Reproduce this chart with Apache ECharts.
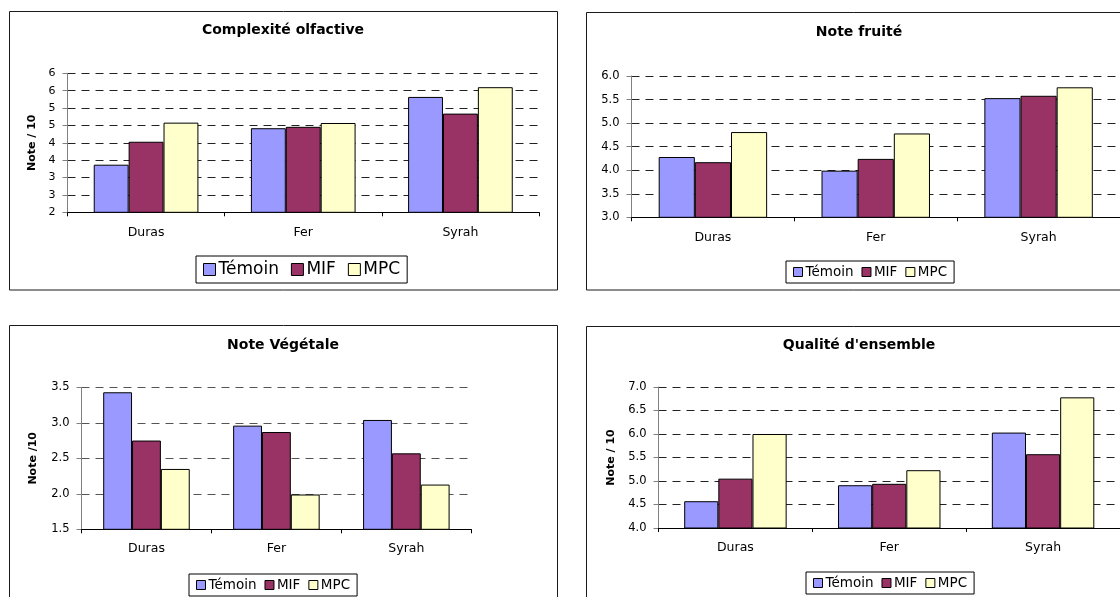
<!DOCTYPE html>
<html>
<head>
<meta charset="utf-8">
<script src="https://cdn.jsdelivr.net/npm/echarts@6/dist/echarts.min.js"></script>
<style>
  html, body { margin: 0; padding: 0; background: #ffffff; }
  #chart { width: 1120px; height: 597px; }
</style>
</head>
<body>
<div id="chart"></div>
<script>
// Sensory scores (note / 10) for three grape varieties and three treatments
const categories = ['Duras', 'Fer', 'Syrah'];
const treatments = ['Témoin', 'MIF', 'MPC'];

const complexiteTemoin = [3.37, 4.42, 5.32];
const complexiteMIF    = [4.03, 4.46, 4.84];
const complexiteMPC    = [4.58, 4.57, 5.60];

const fruiteTemoin = [4.28, 3.99, 5.53];
const fruiteMIF    = [4.17, 4.24, 5.58];
const fruiteMPC    = [4.81, 4.78, 5.76];

const vegetaleTemoin = [3.43, 2.96, 3.04];
const vegetaleMIF    = [2.75, 2.87, 2.57];
const vegetaleMPC    = [2.35, 1.99, 2.13];

const qualiteTemoin = [4.57, 4.91, 6.03];
const qualiteMIF    = [5.05, 4.94, 5.57];
const qualiteMPC    = [6.00, 5.23, 6.78];

// Value-axis tick labels (the first chart shows rounded whole numbers)
const complexiteTicks = ['2', '3', '3', '4', '4', '5', '5', '6', '6'];
const fruiteTicks     = ['3.0', '3.5', '4.0', '4.5', '5.0', '5.5', '6.0'];
const vegetaleTicks   = ['1.5', '2.0', '2.5', '3.0', '3.5'];
const qualiteTicks    = ['4.0', '4.5', '5.0', '5.5', '6.0', '6.5', '7.0'];

const colors = ['#9999FF', '#993366', '#FFFFCC'];
const FONT = 'DejaVu Sans';

const panels = [
  {
    title: 'Complexité olfactive', titleX: 283, titleY: 23,
    grid: { left: 67.5, top: 73.3, width: 471.5, height: 139 },
    min: 2, max: 6, ticks: complexiteTicks, tickSize: 11,
    axisName: 'Note / 10', nameGap: 30,
    values: [complexiteTemoin, complexiteMIF, complexiteMPC],
    legend: { left: 196, top: 256, fontSize: 17, icon: 12, gap: 12, pad: [5, 7, 5, 7] },
    frame: { x: 9.5, y: 11.5, w: 548, h: 278.5 },
    gridColor: '#222', labelMargin: 14
  },
  {
    title: 'Note fruité', titleX: 859, titleY: 25,
    grid: { left: 631.5, top: 76, width: 492.6, height: 141.3 },
    min: 3, max: 6, ticks: fruiteTicks, tickSize: 11.5,
    axisName: '', nameGap: 30,
    values: [fruiteTemoin, fruiteMIF, fruiteMPC],
    legend: { left: 786, top: 261, fontSize: 13.5, icon: 9, gap: 8, pad: [4, 7, 4, 7] },
    frame: { x: 586.5, y: 12.5, w: 620, h: 277.5 },
    gridColor: '#222', labelMargin: 14
  },
  {
    title: 'Note Végétale', titleX: 283, titleY: 338,
    grid: { left: 81.5, top: 387.3, width: 389.8, height: 142 },
    min: 1.5, max: 3.5, ticks: vegetaleTicks, tickSize: 11.5,
    axisName: 'Note /10', nameGap: 43,
    values: [vegetaleTemoin, vegetaleMIF, vegetaleMPC],
    legend: { left: 189, top: 574, fontSize: 13.5, icon: 9, gap: 8, pad: [4, 7, 4, 7] },
    frame: { x: 9.5, y: 325.5, w: 548, h: 300 },
    gridColor: '#555', labelMargin: 13
  },
  {
    title: "Qualité d'ensemble", titleX: 859, titleY: 338,
    grid: { left: 658.5, top: 387, width: 464, height: 141 },
    min: 4, max: 7, ticks: qualiteTicks, tickSize: 11.5,
    axisName: 'Note / 10', nameGap: 42,
    values: [qualiteTemoin, qualiteMIF, qualiteMPC],
    legend: { left: 806, top: 572, fontSize: 13.5, icon: 9, gap: 8, pad: [4, 7, 4, 7] },
    frame: { x: 586.5, y: 326.5, w: 620, h: 300 },
    gridColor: '#222', labelMargin: 13
  }
];

const option = {
  backgroundColor: '#ffffff',
  animation: false,
  textStyle: { fontFamily: FONT, color: '#000' },
  title: [],
  legend: [],
  grid: [],
  xAxis: [],
  yAxis: [],
  series: [],
  graphic: []
};

panels.forEach((p, i) => {
  option.title.push({
    text: p.title,
    left: p.titleX,
    top: p.titleY,
    textAlign: 'center',
    padding: 0,
    textStyle: { fontFamily: FONT, fontSize: 14, fontWeight: 'bold', color: '#000' }
  });

  option.grid.push(Object.assign({ containLabel: false }, p.grid));

  option.xAxis.push({
    type: 'category',
    gridIndex: i,
    data: categories,
    boundaryGap: true,
    axisLine: { lineStyle: { color: '#000', width: 1 } },
    axisTick: { show: true, alignWithLabel: false, length: 4, lineStyle: { color: '#000' } },
    axisLabel: { fontFamily: FONT, fontSize: 12.5, color: '#000', margin: p.labelMargin },
    splitLine: { show: false }
  });

  option.yAxis.push({
    type: 'value',
    gridIndex: i,
    min: p.min,
    max: p.max,
    interval: 0.5,
    name: p.axisName,
    nameLocation: 'middle',
    nameRotate: 90,
    nameGap: p.nameGap,
    nameTextStyle: { fontFamily: FONT, fontSize: 11, fontWeight: 'bold', color: '#000' },
    axisLine: { show: true, lineStyle: { color: '#808080', width: 1 } },
    axisTick: { show: true, length: 5, lineStyle: { color: '#808080' } },
    axisLabel: {
      fontFamily: FONT, fontSize: p.tickSize, color: '#000', margin: 12,
      formatter: (v, idx) => p.ticks[idx]
    },
    splitLine: { show: true, lineStyle: { color: p.gridColor, type: [8, 6], width: 1 } }
  });

  treatments.forEach((name, k) => {
    option.series.push({
      type: 'bar',
      name: name,
      xAxisIndex: i,
      yAxisIndex: i,
      data: p.values[k],
      barWidth: '22.2%',
      barGap: '0%',
      itemStyle: { color: colors[k], borderColor: '#000', borderWidth: 1 }
    });
  });

  option.legend.push({
    data: treatments,
    left: p.legend.left,
    top: p.legend.top,
    orient: 'horizontal',
    icon: 'rect',
    itemWidth: p.legend.icon,
    itemHeight: p.legend.icon,
    itemGap: p.legend.gap,
    padding: p.legend.pad,
    borderColor: '#000',
    borderWidth: 1,
    backgroundColor: '#fff',
    itemStyle: { borderColor: '#000', borderWidth: 1 },
    textStyle: { fontFamily: FONT, fontSize: p.legend.fontSize, color: '#000', padding: [0, 0, 0, -2] }
  });

  // Chart-area border of each panel
  option.graphic.push({
    type: 'rect',
    silent: true,
    z: -1,
    shape: { x: p.frame.x, y: p.frame.y, width: p.frame.w, height: p.frame.h },
    style: { fill: null, stroke: '#1a1a1a', lineWidth: 1 }
  });
});

const chart = echarts.init(document.getElementById('chart'), null, { renderer: 'canvas' });
chart.setOption(option);
</script>
</body>
</html>
